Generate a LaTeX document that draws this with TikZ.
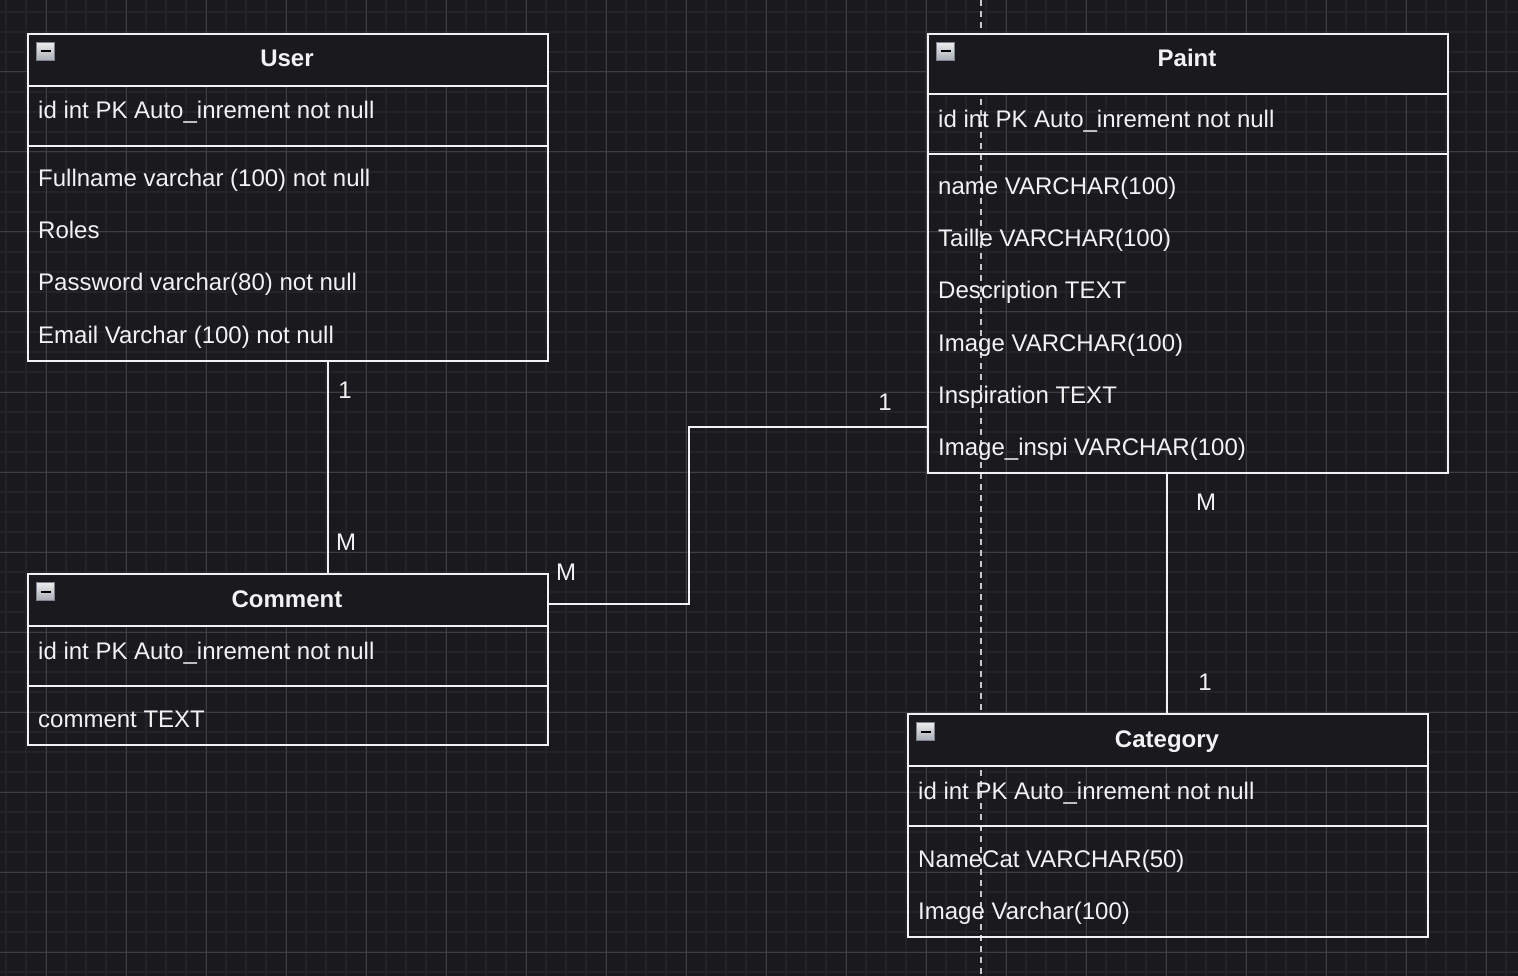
\documentclass[tikz,border=0pt]{standalone}
\usepackage{fontspec}
\setmainfont{Liberation Sans}
\definecolor{bg}{HTML}{1A191E}
\definecolor{gminor}{HTML}{242328}
\definecolor{gmajor}{HTML}{3E3D42}
\definecolor{fg}{HTML}{F2F2F2}
\definecolor{dashc}{HTML}{C8C8C8}
\definecolor{icb}{HTML}{7C8290}
\definecolor{ictop}{HTML}{ECECEC}
\definecolor{icbot}{HTML}{A8ACB4}
\tikzset{
  txt/.style={font=\fontsize{24}{28}\selectfont, text=fg, inner sep=0pt},
  tbox/.style={draw=fg, line width=2pt, rectangle, inner sep=0pt, anchor=north west, minimum width=520pt},
  hdr/.style={tbox, fill=bg},
  ttl/.style={txt, font=\bfseries\fontsize{24}{28}\selectfont, anchor=base},
  row/.style={txt, anchor=base west},
  lbl/.style={txt, anchor=base},
  conn/.style={draw=fg, line width=2pt},
  icon/.style={rectangle, minimum size=18pt, inner sep=0pt, draw=icb, line width=1pt, top color=ictop, bottom color=icbot, anchor=north west},
  minus/.style={draw=black, line width=2pt},
  dashline/.style={draw=dashc, line width=2pt, dash pattern=on 6pt off 5pt}
}
\begin{document}
\begin{tikzpicture}[x=1pt,y=-1pt]
\fill[bg] (0,0) rectangle (1518,976);
\useasboundingbox (0,0) rectangle (1518,976);
% grid
\foreach \x in {6,26,...,1506} \draw[gminor, line width=2pt] (\x,0) -- (\x,976);
\foreach \y in {12,32,...,972} \draw[gminor, line width=2pt] (0,\y) -- (1518,\y);
\foreach \x in {46,126,...,1486} \draw[gmajor, line width=1pt] (\x,0) -- (\x,976);
\foreach \y in {72,152,...,952} \draw[gmajor, line width=1pt] (0,\y) -- (1518,\y);
% dashed guide
\coordinate (gtop) at (981,0);
\coordinate (gbot) at (981,976);
\draw[dashline] (gtop) -- (gbot);

% ===== User =====
\node[tbox, minimum height=327pt] (user) at (27,33) {};
\node[hdr, minimum height=52pt] (userh) at (27,33) {};
\node[tbox, minimum height=60pt] (userid) at (27,85) {};
\node[icon] (useric) at (36,42) {};
\draw[minus] ([xshift=-5pt]useric.center) -- ([xshift=5pt]useric.center);
\node[ttl] (usert) at (287,67) {User};
\node[row] (u1) at (38,119) {id int PK Auto\_inrement not null};
\node[row] (u2) at (38,187) {Fullname varchar (100) not null};
\node[row] (u3) at (38,239) {Roles};
\node[row] (u4) at (38,291) {Password varchar(80) not null};
\node[row] (u5) at (38,343) {Email Varchar (100) not null};

% ===== Comment =====
\node[tbox, minimum height=171pt] (comment) at (27,573) {};
\node[hdr, minimum height=52pt] (commenth) at (27,573) {};
\node[tbox, minimum height=60pt] (commentid) at (27,625) {};
\node[icon] (commentic) at (36,582) {};
\draw[minus] ([xshift=-5pt]commentic.center) -- ([xshift=5pt]commentic.center);
\node[ttl] (commentt) at (287,607) {Comment};
\node[row] (c1) at (38,659) {id int PK Auto\_inrement not null};
\node[row] (c2) at (38,727) {comment TEXT};

% ===== Paint =====
\node[tbox, minimum height=439pt] (paint) at (927,33) {};
\node[hdr, minimum height=60pt] (painth) at (927,33) {};
\node[tbox, minimum height=60pt] (paintid) at (927,93) {};
\node[icon] (paintic) at (936,42) {};
\draw[minus] ([xshift=-5pt]paintic.center) -- ([xshift=5pt]paintic.center);
\node[ttl] (paintt) at (1187,67) {Paint};
\node[row] (p1) at (938,128) {id int PK Auto\_inrement not null};
\node[row] (p2) at (938,195) {name VARCHAR(100)};
\node[row] (p3) at (938,247) {Taille VARCHAR(100)};
\node[row] (p4) at (938,299) {Description TEXT};
\node[row] (p5) at (938,351) {Image VARCHAR(100)};
\node[row] (p6) at (938,403) {Inspiration TEXT};
\node[row] (p7) at (938,455) {Image\_inspi VARCHAR(100)};

% ===== Category =====
\node[tbox, minimum height=223pt] (category) at (907,713) {};
\node[hdr, minimum height=52pt] (categoryh) at (907,713) {};
\node[tbox, minimum height=60pt] (categoryid) at (907,765) {};
\node[icon] (categoryic) at (916,722) {};
\draw[minus] ([xshift=-5pt]categoryic.center) -- ([xshift=5pt]categoryic.center);
\node[ttl] (categoryt) at (1167,747) {Category};
\node[row] (k1) at (918,799) {id int PK Auto\_inrement not null};
\node[row] (k2) at (918,867) {NameCat VARCHAR(50)};
\node[row] (k3) at (918,919) {Image Varchar(100)};

% ===== Connectors =====
\draw[conn] ([xshift=301pt]user.south west) -- ([xshift=301pt]comment.north west);
\draw[conn] ([yshift=-31pt]comment.north east) -- ++(140,0) |- ([yshift=-394pt]paint.north west);
\draw[conn] ([xshift=240pt]paint.south west) -- ([xshift=260pt]category.north west);

% ===== Labels =====
\node[lbl] (l1) at (345,398) {1};
\node[lbl] (l2) at (346,550) {M};
\node[lbl] (l3) at (566,580) {M};
\node[lbl] (l4) at (885,410) {1};
\node[lbl] (l5) at (1206,510) {M};
\node[lbl] (l6) at (1205,690) {1};
\end{tikzpicture}
\end{document}
